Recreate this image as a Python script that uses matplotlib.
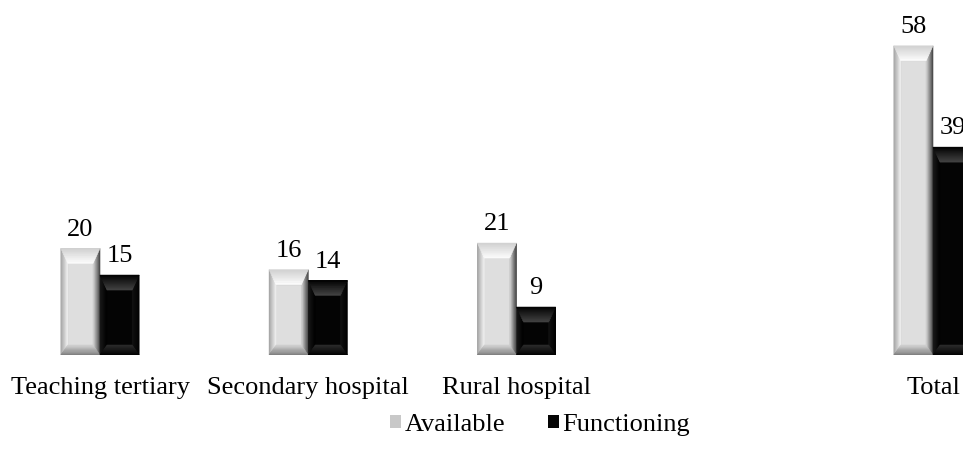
import matplotlib.pyplot as plt
from matplotlib.patches import Polygon
from matplotlib.colors import to_rgb
import numpy as np

categories = ['Teaching tertiary', 'Secondary hospital', 'Rural hospital', '', 'Total']
available = [20, 16, 21, None, 58]
functioning = [15, 14, 9, None, 39]

plt.rcParams['font.family'] = ['Liberation Serif', 'DejaVu Serif']

fig = plt.figure(figsize=(9.63, 4.63), dpi=100)
ax = fig.add_axes([0, 108 / 463, 1, 355 / 463])

x = np.arange(len(categories))
w = 0.188
step = 208.25  # pixels per category

avail_vals = [v if v is not None else 0 for v in available]
func_vals = [v if v is not None else 0 for v in functioning]

b1 = ax.bar(x - w / 2, avail_vals, w, color='#c8c8c8', label='Available', linewidth=0)
b2 = ax.bar(x + w / 2, func_vals, w, color='#050505', label='Functioning', linewidth=0)

ax.set_xlim(-100 / step, (963 - 100) / step)
ax.set_ylim(0, 66.6)
ax.axis('off')

# bevel shading: each facet goes from its outer colour to its inner colour
px_x = 1 / step
px_y = 66.6 / 355
shades = {
    'a': dict(top=('#d0d0d0', '#fdfdfd'), left=('#a0a0a0', '#f2f2f2'),
              right=('#383838', '#d6d6d6'), bottom=('#7c7c7c', '#d2d2d2'),
              face='#dedede'),
    'f': dict(top=('#000000', '#444444'), left=('#1c1c1c', '#000000'),
              right=('#000000', '#121212'), bottom=('#000000', '#2c2c2c'),
              face='#040404'),
}


def lerp(a, b, t):
    return (a[0] + (b[0] - a[0]) * t, a[1] + (b[1] - a[1]) * t)


def facet(p0, p1, q0, q1, cols, n=8):
    c0, c1 = np.array(to_rgb(cols[0])), np.array(to_rgb(cols[1]))
    for k in range(n):
        t0, t1 = k / n, (k + 1) / n
        pts = [lerp(p0, q0, t0), lerp(p1, q1, t0), lerp(p1, q1, t1), lerp(p0, q0, t1)]
        c = c0 + (c1 - c0) * (k + 0.5) / n
        ax.add_patch(Polygon(pts, closed=True, facecolor=c, edgecolor=c,
                             linewidth=0.4, zorder=3))


def bevel(patch, s):
    x0, y0 = patch.get_x(), patch.get_y()
    bw, bh = patch.get_width(), patch.get_height()
    if bh <= 0:
        return
    x1, y1 = x0 + bw, y0 + bh
    sx = 7 * px_x
    st = 15 * px_y
    sb = 10 * px_y
    ix0, ix1 = x0 + sx, x1 - sx
    iy0, iy1 = y0 + sb, y1 - st
    ax.add_patch(Polygon([(ix0, iy0), (ix1, iy0), (ix1, iy1), (ix0, iy1)], closed=True,
                         facecolor=s['face'], edgecolor=s['face'], linewidth=0.4, zorder=3))
    facet((x0, y0), (x0, y1), (ix0, iy0), (ix0, iy1), s['left'])
    facet((x1, y0), (x1, y1), (ix1, iy0), (ix1, iy1), s['right'])
    facet((x0, y0), (x1, y0), (ix0, iy0), (ix1, iy0), s['bottom'])
    facet((x0, y1), (x1, y1), (ix0, iy1), (ix1, iy1), s['top'])


for p in b1:
    bevel(p, shades['a'])
for p in b2:
    bevel(p, shades['f'])

# value labels
for xi, v in zip(x, available):
    if v is not None:
        ax.text(xi - w / 2, v + 3.5, str(v), ha='center', va='center', fontsize=19)
for xi, v in zip(x, functioning):
    if v is not None:
        ax.text(xi + w / 2, v + 3.5, str(v), ha='center', va='center', fontsize=19)

# category labels
for xi, c in zip(x, categories):
    if c:
        fig.text((xi * step + 100) / 963, 1 - 388 / 463, c,
                 ha='center', va='center', fontsize=19)

leg = fig.legend(handles=[b1, b2], loc='center', bbox_to_anchor=(540 / 963, 1 - 425 / 463),
                 ncol=2, frameon=False, fontsize=19, handlelength=0.42, handleheight=0.42,
                 handletextpad=0.15, columnspacing=1.6)

fig.savefig('out.png', dpi=100)
